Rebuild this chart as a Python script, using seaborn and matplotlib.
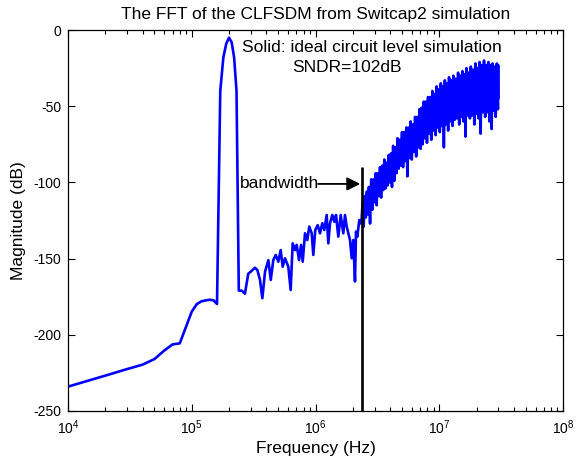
import numpy as np
import pandas as pd
import matplotlib
matplotlib.use("Agg")
import matplotlib.pyplot as plt
import seaborn as sns
from matplotlib.ticker import LogLocator, NullFormatter, FixedLocator

# ---- data ----
low_freq_hz = [1e4, 2e4, 3e4, 4e4, 5e4, 6e4, 7e4, 8e4, 9e4, 1.0e5, 1.1e5, 1.2e5,
               1.3e5, 1.4e5, 1.5e5, 1.6e5, 1.7e5, 1.8e5, 1.9e5, 2.0e5, 2.1e5,
               2.2e5, 2.3e5, 2.4e5]
low_db = [-234, -226.8, -222.5, -219.6, -215.9, -210.3, -206.3, -205.6, -194.6,
          -184.8, -179.8, -178, -177.4, -177, -177.4, -179.8, -40, -18, -9, -5,
          -8, -18, -40, -171]

mid_freq_hz = [2.53e5, 2.69e5, 2.86e5, 3.05e5, 3.24e5, 3.39e5, 3.56e5, 3.72e5,
               3.91e5, 4.16e5, 4.35e5, 4.56e5, 4.77e5, 5.01e5, 5.23e5, 5.43e5,
               5.67e5, 6.03e5, 6.30e5, 6.54e5, 6.83e5, 7.05e5, 7.36e5, 7.64e5,
               7.88e5, 8.23e5, 8.58e5, 8.91e5, 9.32e5, 9.60e5, 9.96e5, 1.042e6,
               1.087e6, 1.135e6, 1.178e6, 1.231e6, 1.269e6, 1.310e6, 1.367e6,
               1.419e6, 1.465e6, 1.529e6, 1.598e6, 1.677e6, 1.731e6, 1.787e6,
               1.841e6, 1.900e6, 1.962e6, 2.021e6, 2.085e6, 2.125e6, 2.177e6,
               2.259e6, 2.319e6]
mid_db = [-171, -173, -160, -158, -156, -157.5, -164, -176, -158.6, -151, -164,
          -151, -147.6, -152, -144.4, -155.3, -149.8, -155.3, -170.6, -140,
          -144.4, -141, -151, -141, -152, -133.4, -137.8, -129, -133.4, -147.6,
          -131.2, -128, -133.4, -126.8, -131.2, -121.4, -140, -126.8, -121.4,
          -125.8, -121.4, -135.6, -121.4, -133.4, -121.4, -129, -133.4, -137.8,
          -149.8, -137.8, -165, -132.3, -135.6, -124.7, -126.8]

high_freq_mhz = [2.35, 2.40, 2.45, 2.50, 2.55, 2.60, 2.65, 2.70, 2.76, 2.82, 2.88,
                 2.94, 3.00, 3.06, 3.12, 3.18, 3.25, 3.32, 3.39, 3.46, 3.53, 3.60,
                 3.67, 3.75, 3.83, 3.91, 3.99, 4.07, 4.15, 4.24, 4.33, 4.42, 4.51,
                 4.60, 4.70, 4.80, 4.90, 5.00, 5.10, 5.20, 5.31, 5.42, 5.53, 5.64,
                 5.76, 5.88, 6.00, 6.12, 6.25, 6.38, 6.51, 6.64, 6.78, 6.92, 7.06,
                 7.20, 7.35, 7.50, 7.65, 7.80, 7.96, 8.12, 8.28, 8.45, 8.62, 8.80,
                 8.98, 9.16, 9.35, 9.54, 9.73, 9.93, 10.1, 10.3, 10.5, 10.7, 10.9,
                 11.1, 11.3, 11.5, 11.8, 12.0, 12.3, 12.5, 12.8, 13.0, 13.3, 13.6,
                 13.9, 14.2, 14.5, 14.8, 15.1, 15.4, 15.7, 16.0, 16.3, 16.6, 17.0,
                 17.3, 17.7, 18.0, 18.4, 18.8, 19.2, 19.6, 20.0, 20.4, 20.8, 21.2,
                 21.6, 22.0, 22.5, 23.0, 23.5, 24.0, 24.5, 25.0, 25.5, 26.0, 26.5,
                 27.0, 27.5, 28.0, 28.6, 29.2, 29.8, 29.9, 30.0]
high_db = [-127, -113, -129, -109, -123, -106, -121, -103, -127, -98, -118,
           -98, -113, -94, -115, -94, -109, -90, -110, -89, -105, -85,
           -104, -87, -102, -82, -100, -81, -103, -76, -99, -77, -94,
           -71, -91, -72, -89, -67, -90, -67, -86, -64, -96, -64,
           -84, -60, -85, -62, -80, -57, -83, -57, -77, -52, -78,
           -51, -75, -47, -71, -47, -74, -44, -68, -44, -72, -40,
           -66, -42, -69, -37, -64, -39, -67, -35, -63, -37, -77,
           -33, -62, -35, -66, -31, -60, -33, -63, -30, -59, -32,
           -58, -28, -62, -30, -57, -27, -60, -29, -70, -25, -56,
           -28, -58, -24, -56, -26, -62, -22, -55, -25, -58, -21,
           -68, -23, -54, -20, -57, -23, -54, -21, -60, -23, -65,
           -22, -53, -24, -57, -22, -52, -23, -45]

bandwidth_hz = 2.36e6
bandwidth_line_top_db = -90
arrow_tail_hz = 1.05e6
arrow_db = -101

title_text = "The FFT of the CLFSDM from Switcap2 simulation"
note_line1 = "Solid: ideal circuit level simulation"
note_line2 = "SNDR=102dB"
x_ticks = [1e4, 1e5, 1e6, 1e7, 1e8]
y_ticks = [0, -50, -100, -150, -200, -250]

# ---- build table ----
freq_all = low_freq_hz + mid_freq_hz + [f * 1e6 for f in high_freq_mhz]
db_all = low_db + mid_db + high_db
df = pd.DataFrame({"freq": freq_all, "db": db_all})

sns.set_style("ticks")
plt.rcParams["font.family"] = ["Liberation Sans", "DejaVu Sans"]
plt.rcParams["mathtext.default"] = "regular"
plt.rcParams["mathtext.fontset"] = "custom"
plt.rcParams["mathtext.rm"] = "Liberation Sans"
plt.rcParams["mathtext.it"] = "Liberation Sans"
plt.rcParams["text.color"] = "black"
plt.rcParams["axes.labelcolor"] = "black"
plt.rcParams["xtick.color"] = "black"
plt.rcParams["ytick.color"] = "black"

fig = plt.figure(figsize=(5.85, 4.72), dpi=100)
ax = fig.add_axes([68 / 585, 61 / 472, 495 / 585, 381 / 472])

sns.lineplot(data=df, x="freq", y="db", sort=False, estimator=None,
             color="#0000ff", linewidth=1.9, ax=ax)
ax.set_xscale("log")
ax.set_xlim(1e4, 1e8)
ax.set_ylim(-250, 0)

ax.vlines(bandwidth_hz, -250, bandwidth_line_top_db, color="black", linewidth=1.9, zorder=5)
ax.annotate("", xy=(bandwidth_hz * 0.975, arrow_db), xytext=(arrow_tail_hz, arrow_db),
            arrowprops=dict(arrowstyle="-|>", color="black", lw=1.3,
                            mutation_scale=20, shrinkA=0, shrinkB=0))
ax.text(arrow_tail_hz * 1.02, arrow_db + 0.5, "bandwidth", ha="right", va="center",
        fontsize=12.5, color="black")
ax.text(2.55e5, -11.8, note_line1, ha="left", va="center", fontsize=12.5, color="black")
ax.text(6.46e5, -24.9, note_line2, ha="left", va="center", fontsize=12.5, color="black")

ax.set_title(title_text, fontsize=12.5, pad=8, color="black")
ax.set_xlabel("Frequency (Hz)", fontsize=12.5, labelpad=3)
ax.set_ylabel("Magnitude (dB)", fontsize=12.5, labelpad=5)

ax.xaxis.set_major_locator(FixedLocator(x_ticks))
ax.xaxis.set_minor_locator(LogLocator(base=10, subs=np.arange(2, 10)))
ax.xaxis.set_minor_formatter(NullFormatter())
ax.set_yticks(y_ticks)
ax.set_yticklabels([str(v) for v in y_ticks])
ax.tick_params(which="both", direction="in", top=True, right=True,
               labelsize=10, colors="black", width=0.8)
ax.tick_params(which="major", length=5, pad=5)
ax.tick_params(which="minor", length=3)
for s in ax.spines.values():
    s.set_visible(True)
    s.set_color("black")
    s.set_linewidth(0.9)
ax.grid(False)

fig.savefig("out.png", dpi=100)
